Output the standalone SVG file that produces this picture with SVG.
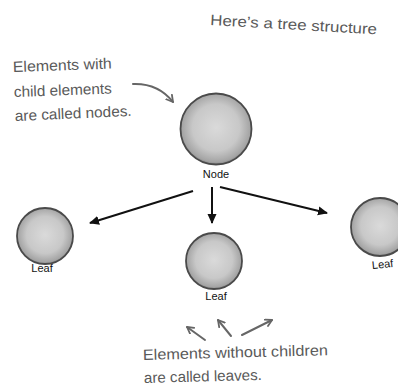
<svg xmlns="http://www.w3.org/2000/svg" width="398" height="387" viewBox="0 0 398 387">
<defs>
<radialGradient id="ball" cx="0.5" cy="0.48" r="0.55">
<stop offset="0" stop-color="#dadada"/>
<stop offset="0.6" stop-color="#c8c8c8"/>
<stop offset="0.88" stop-color="#a4a4a4"/>
<stop offset="1" stop-color="#6a6a6a"/>
</radialGradient>
<marker id="ah" viewBox="0 0 10 10" refX="9" refY="5" markerWidth="10" markerHeight="10" markerUnits="userSpaceOnUse" orient="auto">
<path d="M0,0.5 L10,5 L0,9.5 Z" fill="#111"/>
</marker>
<marker id="gh" viewBox="0 0 10 10" refX="8" refY="5" markerWidth="9" markerHeight="9" markerUnits="userSpaceOnUse" orient="auto">
<path d="M1,1 L8,5 L1,9" fill="none" stroke="#666" stroke-width="2" stroke-linecap="round" stroke-linejoin="round"/>
</marker>
</defs>
<style>
.ball{fill:url(#ball);stroke:#4a4a4a;stroke-width:1.8}
.lbl{font-family:"Liberation Sans",Arial,sans-serif;font-size:11px;fill:#111;text-anchor:middle}
.note{font-family:"Liberation Sans",Arial,sans-serif;font-size:15px;fill:#5a5a5a}
.conn{stroke:#111;stroke-width:2;fill:none;marker-end:url(#ah)}
.gconn{stroke:#666;stroke-width:2;fill:none;stroke-linecap:round;marker-end:url(#gh)}
</style>
<rect width="398" height="387" fill="#fff"/>
<g id="node-root">
<circle class="ball" cx="216" cy="129" r="35.5"/>
<text class="lbl" x="216" y="178">Node</text>
</g>
<g id="leaf-left">
<circle class="ball" cx="45" cy="236" r="28"/>
<text class="lbl" x="42" y="272">Leaf</text>
</g>
<g id="leaf-middle">
<circle class="ball" cx="214" cy="261" r="28"/>
<text class="lbl" x="216" y="300">Leaf</text>
</g>
<g id="leaf-right">
<circle class="ball" cx="380" cy="227" r="29"/>
<text class="lbl" x="383" y="268" transform="rotate(-6 383 268)">Leaf</text>
</g>
<g id="connectors">
<line class="conn" x1="193" y1="191" x2="90" y2="223"/>
<line class="conn" x1="212" y1="187" x2="212" y2="223"/>
<line class="conn" x1="220" y1="187" x2="327" y2="213"/>
<path class="gconn" d="M133,84 Q158,83 173,102"/>
<line class="gconn" x1="205" y1="340" x2="187" y2="327"/>
<line class="gconn" x1="231" y1="336" x2="218" y2="320"/>
<line class="gconn" x1="242" y1="335" x2="272" y2="320"/>
</g>
<g id="notes">
<text class="note" x="210" y="25" textLength="167" lengthAdjust="spacingAndGlyphs" transform="rotate(3.2 210 25)">Here’s a tree structure</text>
<text class="note" x="13" y="72" textLength="99" lengthAdjust="spacingAndGlyphs" transform="rotate(-2 13 72)">Elements with</text>
<text class="note" x="14" y="97" textLength="98" lengthAdjust="spacingAndGlyphs" transform="rotate(-2 14 97)">child elements</text>
<text class="note" x="15" y="121" textLength="117" lengthAdjust="spacingAndGlyphs" transform="rotate(-2.5 15 121)">are called nodes.</text>
<text class="note" x="143" y="360" textLength="185" lengthAdjust="spacingAndGlyphs" transform="rotate(-1.5 143 360)">Elements without children</text>
<text class="note" x="144" y="383" textLength="118" lengthAdjust="spacingAndGlyphs" transform="rotate(-1.5 144 383)">are called leaves.</text>
</g>
</svg>
